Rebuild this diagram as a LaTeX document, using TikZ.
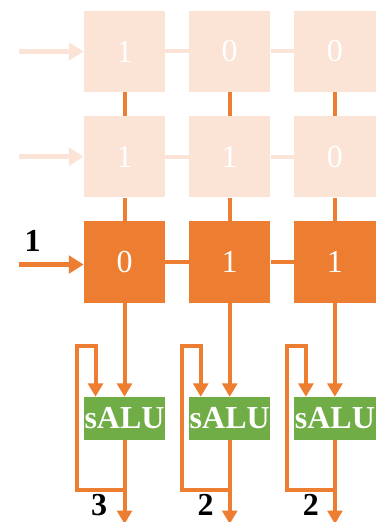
\documentclass[tikz,border=0pt]{standalone}
\usepackage{fontspec}
\setmainfont{Liberation Serif}
\usetikzlibrary{arrows.meta,positioning}
\definecolor{accorange}{HTML}{ED7D31}
\definecolor{accpale}{HTML}{FBE3D5}
\definecolor{accgreen}{HTML}{70AD47}

\begin{document}
\begin{tikzpicture}[
    node distance=17.5pt and 17.5pt,
    cell/.style={minimum size=61pt, inner sep=0pt, text=white, font=\fontsize{24}{24}\selectfont},
    old/.style={cell, fill=accpale},
    cur/.style={cell, fill=accorange},
    alu/.style={fill=accgreen, minimum width=61pt, minimum height=32pt, inner sep=0pt, text=white, font=\fontsize{24}{24}\selectfont\bfseries},
    link/.style={line width=3pt, accorange},
    plink/.style={line width=3pt, accpale},
    arr/.style={-{Triangle[length=10pt, width=11pt]}, line width=3pt, accorange},
    inarr/.style={-{Triangle[length=11pt, width=13pt]}, line width=3.5pt},
    lbl/.style={font=\fontsize{24}{24}\selectfont\bfseries, inner sep=0pt},
]
\useasboundingbox (-93.4pt,38.6pt) rectangle (195.4pt,-352.9pt);

% Older rows (faded)
\node[old] (c11) at (0,0) {1};
\node[old, right=of c11] (c12) {0};
\node[old, right=of c12] (c13) {0};
\node[old, below=of c11] (c21) {1};
\node[old, right=of c21] (c22) {1};
\node[old, right=of c22] (c23) {0};

% Current row
\node[cur, below=of c21] (c31) {0};
\node[cur, right=of c31] (c32) {1};
\node[cur, right=of c32] (c33) {1};

% sALUs
\node[alu, below=70.5pt of c31] (alu1) {sALU};
\node[alu, below=70.5pt of c32] (alu2) {sALU};
\node[alu, below=70.5pt of c33] (alu3) {sALU};

% Input arrows
\coordinate (in1) at ([xshift=-48.75pt]c11.west);
\coordinate (in2) at ([xshift=-48.75pt]c21.west);
\coordinate (in3) at ([xshift=-48.75pt,yshift=-2pt]c31.west);
\draw[inarr, accpale] (in1) -- (c11.west);
\draw[inarr, accpale] (in2) -- (c21.west);
\draw[inarr, accorange] (in3) -- (in3 -| c31.west);
\node[lbl] at ([xshift=10.5pt,yshift=17.8pt]in3) {1};

% Row links
\draw[plink] (c11) -- (c12);
\draw[plink] (c12) -- (c13);
\draw[plink] (c21) -- (c22);
\draw[plink] (c22) -- (c23);
\draw[link] (c31) -- (c32);
\draw[link] (c32) -- (c33);

% Column links
\draw[link] (c11) -- (c21);
\draw[link] (c12) -- (c22);
\draw[link] (c13) -- (c23);
\draw[link] (c21) -- (c31);
\draw[link] (c22) -- (c32);
\draw[link] (c23) -- (c33);
\draw[arr] (c31) -- (alu1);
\draw[arr] (c32) -- (alu2);
\draw[arr] (c33) -- (alu3);

% Outputs
\coordinate (out1) at ([yshift=-63pt]alu1.south);
\coordinate (out2) at ([yshift=-63pt]alu2.south);
\coordinate (out3) at ([yshift=-63pt]alu3.south);
\draw[arr] (alu1) -- (out1);
\draw[arr] (alu2) -- (out2);
\draw[arr] (alu3) -- (out3);
\node[lbl] at ([xshift=-19pt,yshift=14pt]out1) {3};
\node[lbl] at ([xshift=-18pt,yshift=14pt]out2) {2};
\node[lbl] at ([xshift=-18pt,yshift=14pt]out3) {2};

% Feedback loops
\coordinate (tap1) at ([yshift=-37.5pt]alu1.south);
\coordinate (tap2) at ([yshift=-37.5pt]alu2.south);
\coordinate (tap3) at ([yshift=-37.5pt]alu3.south);
\draw[arr] (tap1) -| ([xshift=-36pt,yshift=38.25pt]alu1.north) -| ([xshift=-21.75pt]alu1.north);
\draw[arr] (tap2) -| ([xshift=-36pt,yshift=38.25pt]alu2.north) -| ([xshift=-21.75pt]alu2.north);
\draw[arr] (tap3) -| ([xshift=-36pt,yshift=38.25pt]alu3.north) -| ([xshift=-21.75pt]alu3.north);
\end{tikzpicture}
\end{document}
